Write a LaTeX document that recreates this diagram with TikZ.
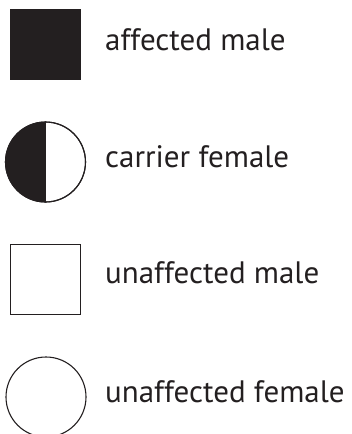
\documentclass[tikz,border=0pt]{standalone}
\usepackage{fontspec}
\setmainfont{PT Sans}
\usepackage{tikz}
\usetikzlibrary{positioning}

\begin{document}
\begin{tikzpicture}
	[x=1pt,y=-1pt,line cap=round,
	%Styles
	male/.style={draw=ink,line width=1.3pt,minimum size=70pt,inner sep=0pt,outer sep=0pt},
	female/.style={circle,draw=ink,line width=1.1pt,minimum size=80pt,inner sep=0pt,outer sep=0pt},
	legend text/.style={anchor=base west,inner sep=0pt,text=ink,font=\fontsize{31}{36}\selectfont}
	]

	%Colors
	\definecolor{ink}{HTML}{231F20}	%symbols and text

	%The graphic
	\useasboundingbox (0,0) rectangle (351,434);
	\clip (0,0) rectangle (351,434);

	\node[male,fill=ink] (affected) at (45.5,44.5) {};
	\node[legend text] (affectedlabel) at (105,50) {affected male};

	\node[female] (carrier) at (45.5,162) {};
	\fill[ink] (carrier.north) arc[start angle=90,end angle=270,radius=40pt] -- cycle;
	\node[female] at (carrier) {};
	\draw[ink,line width=1.1pt] (carrier.north) -- (carrier.south);
	\node[legend text] (carrierlabel) at (105,167) {carrier female};

	\node[male] (unaffected) at (45.5,279.5) {};
	\node[legend text] (unaffectedlabel) at (105,283) {unaffected male};

	\node[female] (normal) at (46,397) {};
	\node[legend text] (normallabel) at (105,402) {unaffected female};
\end{tikzpicture}
\end{document}
